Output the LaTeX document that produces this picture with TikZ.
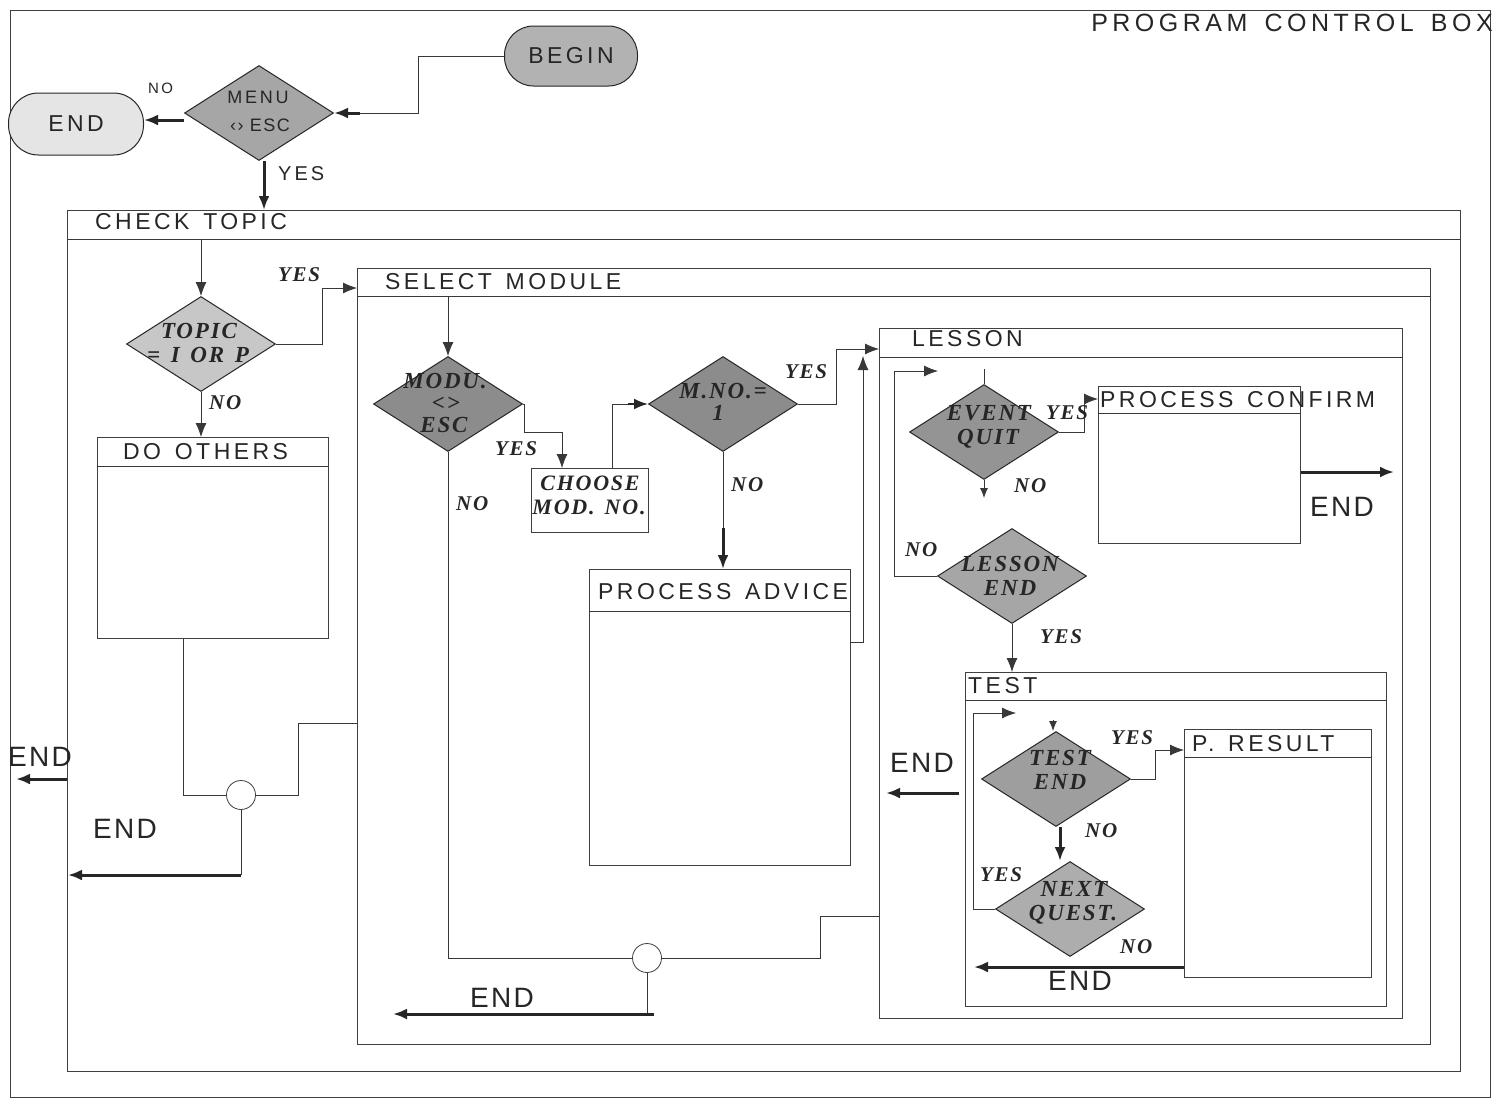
\documentclass[tikz,border=0pt]{standalone}
\usepackage{fontspec}
\setmainfont{Liberation Serif}
\newfontfamily\hvA[LetterSpace=15,WordSpace=1.4]{Liberation Sans}
\newfontfamily\hvB[LetterSpace=18,WordSpace=1.5]{Liberation Sans}
\newfontfamily\hvE[LetterSpace=8]{Liberation Sans}
\newfontfamily\tbi[LetterSpace=8,WordSpace=1.4]{Liberation Serif}
\usetikzlibrary{arrows.meta,shapes.geometric}
\tikzset{
  ln/.style={draw=black!78, line width=0.8pt},
  arr/.style={ln, -{Latex[length=14pt,width=11pt]}},
  sarr/.style={ln, -{Latex[length=10pt,width=8pt]}},
  thk/.style={draw=black!85, line width=3pt, -{Latex[length=14pt,width=11pt]}},
  frame/.style={draw=black!75, line width=0.9pt, anchor=north west, inner sep=0pt},
  dia/.style={diamond, draw=black!85, line width=1pt, inner sep=0pt, minimum width=149pt, minimum height=95pt},
  ttl/.style={anchor=base west, inner sep=0pt, font=\hvA\fontsize{23}{27}\selectfont, text=black!85},
  endl/.style={anchor=base west, inner sep=0pt, font=\hvE\fontsize{28}{32}\selectfont, text=black!85},
  yn/.style={anchor=base west, inner sep=0pt, font=\tbi\bfseries\itshape\fontsize{21}{24}\selectfont, text=black!85},
  dt/.style={anchor=base, inner sep=0pt, font=\tbi\bfseries\itshape\fontsize{23}{26}\selectfont, text=black!85},
  jn/.style={circle, draw=black!75, line width=0.8pt, fill=white, minimum size=29pt, inner sep=0pt},
  term/.style={draw=black!85, line width=1pt, inner sep=0pt, font=\hvA\fontsize{23}{26}\selectfont, text=black!85},
}
\begin{document}
\begin{tikzpicture}[x=1pt,y=-1pt]
\useasboundingbox (0,0) rectangle (1497,1104);
\fill[white] (0,0) rectangle (1497,1104);

% frames
\node[frame, minimum width=1480pt, minimum height=1087pt] (pcb) at (10,10) {};
\node[frame, minimum width=1393pt, minimum height=861pt] (ct) at (67,210) {};
\node[frame, minimum width=1073pt, minimum height=776pt] (sm) at (357,268) {};
\node[frame, minimum width=523pt, minimum height=690pt] (les) at (879,328) {};
\node[frame, minimum width=421pt, minimum height=334pt] (tst) at (965,672) {};
\node[frame, minimum width=187pt, minimum height=248pt] (pr) at (1184,729) {};
\node[frame, minimum width=202pt, minimum height=157pt] (pc) at (1098,386) {};
\node[frame, minimum width=261pt, minimum height=296pt] (pa) at (589,569) {};
\node[frame, minimum width=231pt, minimum height=201pt] (dox) at (97,437) {};
\node[frame, minimum width=117pt, minimum height=64pt] (ch) at (531,468) {};
\foreach \nm/\h in {ct/29, sm/28, les/29, tst/28, pr/28, pc/27, pa/42, dox/29}
  \draw[ln] ([yshift=-\h pt]\nm.north west) -- ([yshift=-\h pt]\nm.north east);

% titles
\node[ttl, anchor=base east, font=\hvB\fontsize{25}{29}\selectfont] (tpcb) at (1493,31) {PROGRAM CONTROL BOX};
\node[ttl] (tct) at (95,229) {CHECK TOPIC};
\node[ttl] (tsm) at (385,289) {SELECT MODULE};
\node[ttl] (tles) at (912,346) {LESSON};
\node[ttl] (tpc) at (1100,407) {PROCESS CONFIRM};
\node[ttl] (tdo) at (123,459) {DO OTHERS};
\node[ttl] (tpa) at (598,599) {PROCESS ADVICE};
\node[ttl] (ttst) at (968,693) {TEST};
\node[ttl] (tpr) at (1192,751) {P. RESULT};

% terminals
\node[term, fill=black!30, rounded corners=29pt, minimum width=133pt, minimum height=60pt] (begin) at (571,56) {BEGIN};
\node[term, fill=black!10, rounded corners=30pt, minimum width=135pt, minimum height=62pt] (endt) at (76,124) {END};

% diamonds
\node[dia, fill=black!35] (menu) at (259,113) {};
\node[dia, fill=black!22] (topic) at (201,344) {};
\node[dia, fill=black!45] (modu) at (448,404) {};
\node[dia, fill=black!45] (mno) at (723,404) {};
\node[dia, fill=black!42] (eq) at (984,432) {};
\node[dia, fill=black!35] (lend) at (1012,576) {};
\node[dia, fill=black!38] (te) at (1056,779) {};
\node[dia, fill=black!32] (nq) at (1070,909) {};

% diamond texts
\node[dt, font=\hvA\fontsize{18}{20}\selectfont] (menu1) at (258,103) {MENU};
\node[dt, font=\hvE\fontsize{18}{20}\selectfont] (menu2) at (260,131) {‹› ESC};
\node[dt] (topic1) at (199,338) {TOPIC};
\node[dt] (topic2) at (198,362) {= I OR P};
\node[dt] (modu1) at (445,388) {MODU.};
\node[dt] (modu2) at (446,410) {<>};
\node[dt] (modu3) at (444,432) {ESC};
\node[dt] (mno1) at (723,398) {M.NO.=};
\node[dt] (mno2) at (718,420) {1};
\node[dt] (eq1) at (989,420) {EVENT};
\node[dt] (eq2) at (988,444) {QUIT};
\node[dt] (lend1) at (1010,571) {LESSON};
\node[dt] (lend2) at (1010,595) {END};
\node[dt] (te1) at (1060,765) {TEST};
\node[dt] (te2) at (1060,789) {END};
\node[dt] (nq1) at (1074,896) {NEXT};
\node[dt] (nq2) at (1073,920) {QUEST.};
\node[dt, font=\tbi\bfseries\itshape\fontsize{22}{26}\selectfont] (ch1) at (590,490) {CHOOSE};
\node[dt, font=\tbi\bfseries\itshape\fontsize{22}{26}\selectfont] (ch2) at (589,514) {MOD. NO.};

% junctions
\node[jn] (j1) at (241,795) {};
\node[jn] (j2) at (647,958) {};

% free ends and bends
\coordinate (paUp) at (863,356);
\coordinate (e2a) at (654,1014);
\coordinate (e2b) at (393,1014);
\coordinate (e1a) at (241,875);
\coordinate (e1b) at (68,875);
\coordinate (e0b) at (16,779);
\coordinate (lpA) at (938,371);
\coordinate (tpA) at (1016,713);
\coordinate (eqN) at (984,498);
\coordinate (leA) at (959,793);
\coordinate (leB) at (886,793);
\coordinate (pcE) at (1394,472);
\coordinate (prE) at (974,967);
\coordinate (teT) at (1053,720);
\coordinate (bm) at (360,113);
\coordinate (cm) at (628,404);

% connectors top
\draw[ln] (begin.west) -- (418,56) -- (418,113) -- (bm);
\draw[thk] (bm) -- (menu.east);
\draw[thk] ([yshift=-7pt]menu.west) -- ([yshift=-7pt]menu.west -| endt.east);
\draw[thk] ([xshift=5pt]menu.south) -- ([xshift=5pt]menu.south |- ct.north);

% check topic
\draw[arr] (topic.north |- 0,239) -- (topic.north);
\draw[arr] (topic.east) -- (322,344) -- (322,288) -- (sm.west |- 0,288);
\draw[arr] (topic.south) -- (topic.south |- dox.north);
\draw[ln] ([xshift=86pt]dox.south west) |- (j1.west);
\draw[ln] (j1.east) -- (298,795) -- (298,723) -- (sm.west |- 0,723);
\draw[ln] (j1.south) -- (j1.south |- e1a);
\draw[thk] (e1a) -- (e1b);
\draw[thk] (ct.west |- e0b) -- (e0b);

% select module
\draw[arr] (modu.north |- 0,296) -- (modu.north);
\draw[arr] (modu.east) -- (524,404) -- (524,432) -- (562,432) -- ([xshift=31pt]ch.north west);
\draw[ln] ([xshift=-37pt]ch.north east) |- (cm);
\draw[thk, line width=2pt] (cm) -- (mno.west);
\draw[arr] (mno.east) -- (836,404) -- (836,349) -- (les.west |- 0,349);
\draw[ln] (mno.south) -- (mno.south |- 0,528);
\draw[thk] (mno.south |- 0,528) -- (mno.south |- pa.north);
\draw[arr] (pa.east |- 0,642) -- (paUp |- 0,642) -- (paUp);
\draw[ln] (modu.south) |- (j2.west);
\draw[ln] (j2.east) -- (820,958) -- (820,916) -- (les.west |- 0,916);
\draw[ln] (j2.south) -- (j2.south |- e2a);
\draw[thk] (e2a) -- (e2b);

% lesson
\draw[arr] (lend.west) -- (894,576) -- (894,371) -- (lpA);
\draw[ln] (eq.north) -- ++(0,-15);
\draw[arr] (eq.east) -- (1084,432) -- (1084,399) -- (pc.west |- 0,399);
\draw[sarr] (eq.south) -- (eqN);
\draw[arr] (lend.south) -- (lend.south |- tst.north);
\draw[thk] (pc.east |- pcE) -- (pcE);
\draw[thk] (leA) -- (leB);

% test
\draw[arr] (nq.west) -- (973,909) -- (973,713) -- (tpA);
\draw[sarr] (teT) -- (teT |- te.north);
\draw[arr] (te.east) -- (1155,779) -- (1155,750) -- (pr.west |- 0,750);
\draw[thk] ([xshift=4pt]te.south) -- ([xshift=4pt]te.south |- nq.north);
\draw[thk] (pr.west |- prE) -- (prE);

% labels
\node[anchor=base west, inner sep=0pt, font=\hvA\fontsize{15}{18}\selectfont, text=black!85] (lno0) at (148,93) {NO};
\node[anchor=base west, inner sep=0pt, font=\hvA\fontsize{20}{24}\selectfont, text=black!85] (lyes0) at (278,180) {YES};
\node[yn] (ly1) at (278,281) {YES};
\node[yn] (ln1) at (209,409) {NO};
\node[yn] (ly2) at (495,455) {YES};
\node[yn] (ln2) at (456,510) {NO};
\node[yn] (ly3) at (785,378) {YES};
\node[yn] (ln3) at (731,491) {NO};
\node[yn] (ly4) at (1046,419) {YES};
\node[yn] (ln4) at (1014,492) {NO};
\node[yn] (ln5) at (905,556) {NO};
\node[yn] (ly5) at (1040,643) {YES};
\node[yn] (ly6) at (1111,744) {YES};
\node[yn] (ln6) at (1085,837) {NO};
\node[yn] (ly7) at (980,881) {YES};
\node[yn] (ln7) at (1120,953) {NO};

\node[endl] (end1) at (8,766) {END};
\node[endl] (end2) at (93,838) {END};
\node[endl] (end3) at (470,1007) {END};
\node[endl] (end4) at (890,772) {END};
\node[endl] (end5) at (1310,516) {END};
\node[endl] (end6) at (1048,990) {END};
\end{tikzpicture}
\end{document}
